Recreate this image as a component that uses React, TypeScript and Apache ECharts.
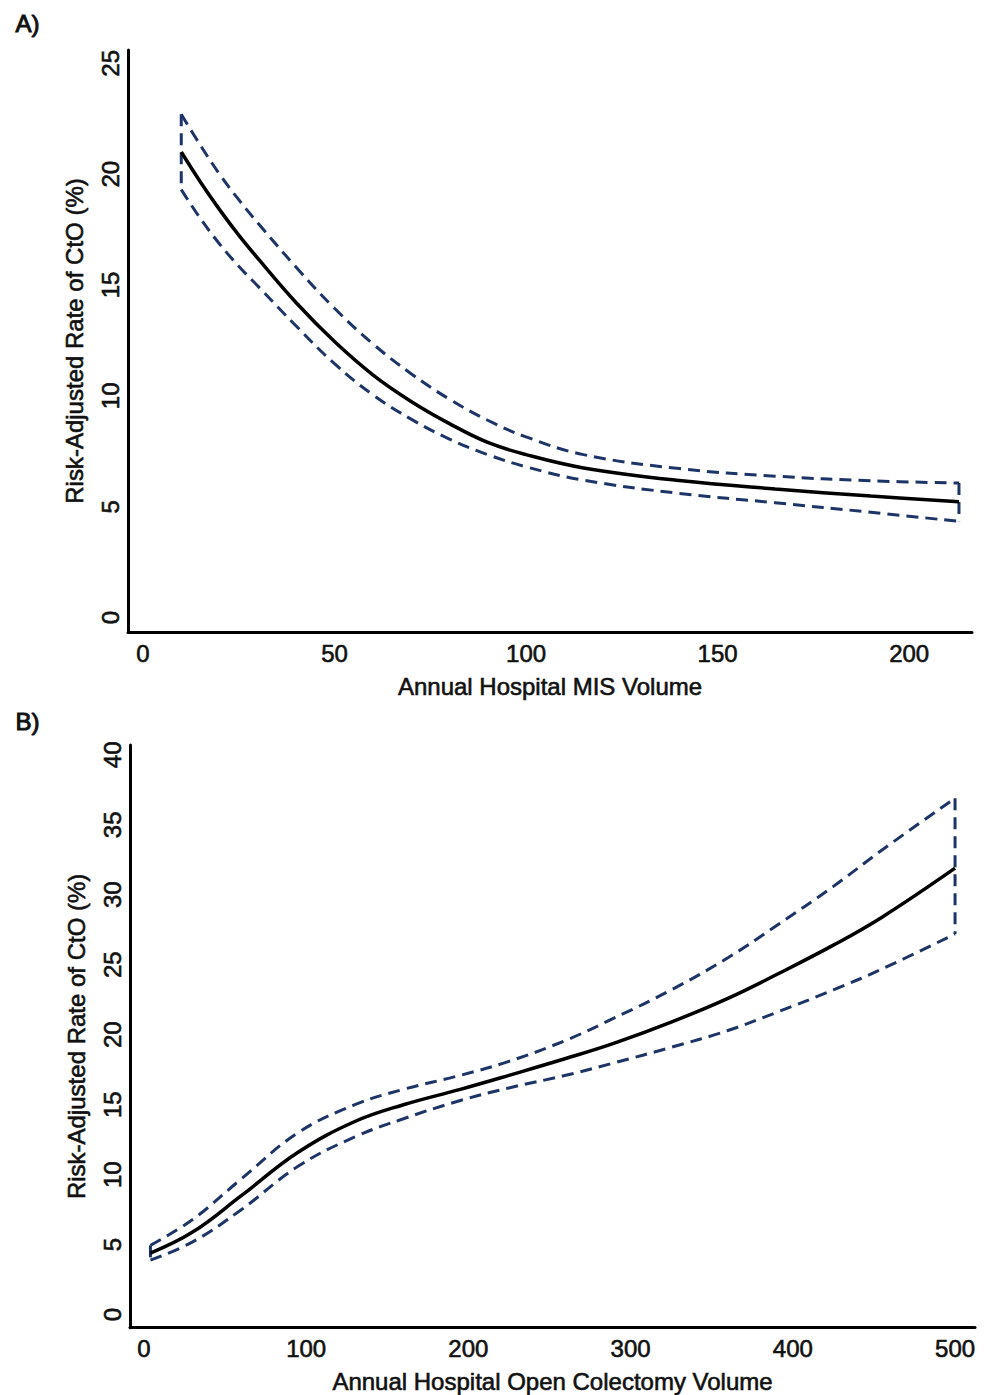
import React, { useEffect, useRef } from "react";
import * as echarts from "echarts";

// Panel A: MIS volume
const xA = [10, 15, 20, 25, 30, 40, 50, 60, 70, 80, 90, 100, 115, 140, 165, 190, 213];
const fitA = [21.0, 19.65, 18.4, 17.25, 16.2, 14.2, 12.45, 10.95, 9.75, 8.75, 7.9, 7.35, 6.75, 6.18, 5.8, 5.48, 5.22];
const upperA = [22.7, 21.3, 20.0, 18.85, 17.8, 15.8, 13.95, 12.35, 11.0, 9.85, 8.9, 8.15, 7.35, 6.72, 6.38, 6.17, 6.07];
const lowerA = [19.3, 18.0, 16.85, 15.85, 14.95, 13.15, 11.45, 10.05, 8.95, 8.05, 7.35, 6.8, 6.2, 5.6, 5.18, 4.75, 4.34];
const ticksAX = [0, 50, 100, 150, 200];
const ticksAY = [0, 5, 10, 15, 20, 25];

// Panel B: open colectomy volume
const xB = [4, 30, 60, 95, 130, 160, 195, 225, 260, 290, 325, 360, 390, 425, 455, 500];
const fitB = [4.4, 5.9, 8.5, 11.6, 13.8, 15.0, 16.1, 17.1, 18.3, 19.4, 20.9, 22.6, 24.3, 26.4, 28.4, 31.9];
const upperB = [4.95, 6.8, 9.7, 13.0, 15.0, 16.1, 17.1, 18.1, 19.6, 21.2, 23.2, 25.5, 27.8, 30.6, 33.2, 36.9];
const lowerB = [3.9, 5.2, 7.5, 10.6, 12.7, 14.0, 15.3, 16.2, 17.1, 18.0, 19.1, 20.3, 21.6, 23.2, 24.7, 27.2];
const ticksBX = [0, 100, 200, 300, 400, 500];
const ticksBY = [0, 5, 10, 15, 20, 25, 30, 35, 40];

const FONT = "'Liberation Sans', Arial, sans-serif";
const NAVY = "#1d3566";
const TXT = { color: "#111", fontFamily: FONT, fontSize: 24, textBorderColor: "#111", textBorderWidth: 0.6 };

function zip(xs: number[], ys: number[]) {
  return xs.map((x, i) => [x, ys[i]]);
}

function panelSeries(idx: number, xs: number[], fit: number[], up: number[], lo: number[]) {
  const n = xs.length - 1;
  const dashed = { color: NAVY, width: 3, type: [12, 7] as any, cap: "butt" as const };
  const base = { type: "line" as const, xAxisIndex: idx, yAxisIndex: idx, symbol: "none", showSymbol: false, silent: true };
  return [
    { ...base, data: zip(xs, up), smooth: 0.4, lineStyle: dashed, z: 2 },
    { ...base, data: zip(xs, lo), smooth: 0.4, lineStyle: dashed, z: 2 },
    { ...base, data: [[xs[0], up[0]], [xs[0], lo[0]]], lineStyle: dashed, z: 2 },
    { ...base, data: [[xs[n], up[n]], [xs[n], lo[n]]], lineStyle: dashed, z: 2 },
    { ...base, data: zip(xs, fit), smooth: 0.4, lineStyle: { color: "#000", width: 3.5 }, z: 3 },
  ];
}

function xAxisCfg(idx: number, min: number, max: number, ticks: number[], name: string) {
  return {
    type: "value", gridIndex: idx, min, max,
    name, nameLocation: "middle", nameGap: 54,
    nameTextStyle: { ...TXT, verticalAlign: "middle" },
    axisLine: { show: true, onZero: false, lineStyle: { color: "#000", width: 3, cap: "round" } },
    axisTick: { show: false },
    splitLine: { show: false },
    axisLabel: { ...TXT, customValues: ticks, margin: 9 },
  };
}

function yAxisCfg(idx: number, min: number, max: number, ticks: number[], name: string) {
  return {
    type: "value", gridIndex: idx, min, max,
    name, nameLocation: "middle", nameGap: 54, nameRotate: 90,
    nameTextStyle: { ...TXT, verticalAlign: "middle" },
    axisLine: { show: true, onZero: false, lineStyle: { color: "#000", width: 3, cap: "round" } },
    axisTick: { show: false },
    splitLine: { show: false },
    axisLabel: { ...TXT, customValues: ticks, rotate: 90, margin: 6 },
  };
}

export default function App() {
  const ref = useRef<HTMLDivElement>(null);
  useEffect(() => {
    const chart = echarts.init(ref.current!, null, { renderer: "svg" });
    const yName = "Risk-Adjusted Rate of CtO (%)";
    chart.setOption({
      animation: false,
      backgroundColor: "#fff",
      grid: [
        { left: 128, top: 50, width: 844, height: 582 },
        { left: 130, top: 745, width: 845, height: 583 },
      ],
      xAxis: [
        xAxisCfg(0, -3.9, 216.4, ticksAX, "Annual Hospital MIS Volume"),
        xAxisCfg(1, -8.6, 512.3, ticksBX, "Annual Hospital Open Colectomy Volume"),
      ],
      yAxis: [
        yAxisCfg(0, -0.65, 25.6, ticksAY, yName),
        yAxisCfg(1, -0.93, 40.7, ticksBY, yName),
      ],
      series: [
        ...panelSeries(0, xA, fitA, upperA, lowerA),
        ...panelSeries(1, xB, fitB, upperB, lowerB),
      ],
      graphic: [
        { type: "text", left: 15, top: 11, style: { text: "A)", fontSize: 24, fontFamily: FONT, fill: "#111", stroke: "#111", lineWidth: 1 } },
        { type: "text", left: 15, top: 709, style: { text: "B)", fontSize: 24, fontFamily: FONT, fill: "#111", stroke: "#111", lineWidth: 1 } },
      ],
    } as any);
    return () => chart.dispose();
  }, []);
  return (
    <div
      ref={ref}
      style={{ position: "absolute", left: 0, top: 0, width: 988, height: 1395, background: "#fff" }}
    />
  );
}
